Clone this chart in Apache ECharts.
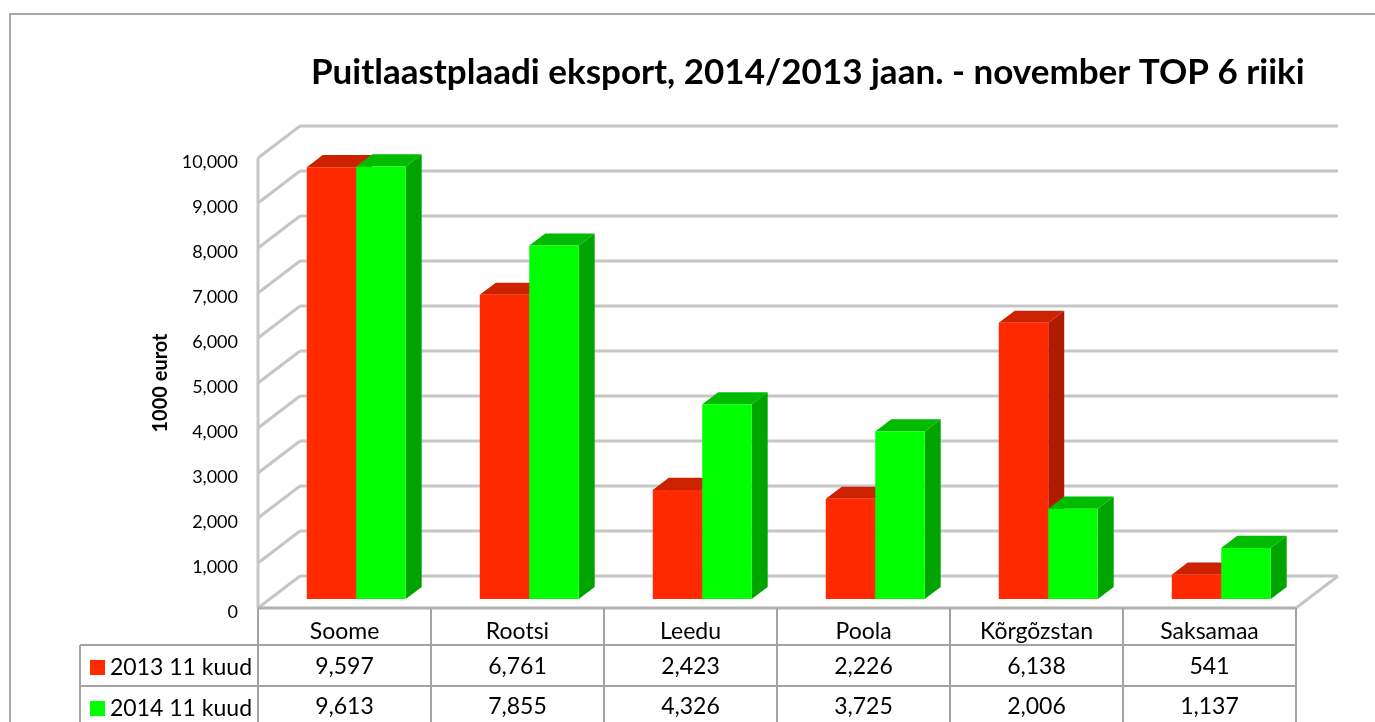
<!DOCTYPE html>
<html><head><meta charset="utf-8">
<script src="https://cdn.jsdelivr.net/npm/echarts@6/dist/echarts.min.js"></script>
<style>html,body{margin:0;padding:0;background:#fff}#c{width:1375px;height:722px}</style>
</head><body><div id="c"></div><script>
// ---- data ----
const titleText = 'Puitlaastplaadi eksport, 2014/2013 jaan. - november TOP 6 riiki';
const yAxisName = '1000 eurot';
const categories = ['Soome', 'Rootsi', 'Leedu', 'Poola', 'Kõrgõzstan', 'Saksamaa'];
const seriesNames = ['2013 11 kuud', '2014 11 kuud'];
const values2013 = [9597, 6761, 2423, 2226, 6138, 541];
const values2014 = [9613, 7855, 4326, 3725, 2006, 1137];
const yTicks = [0, 1000, 2000, 3000, 4000, 5000, 6000, 7000, 8000, 9000, 10000];

// ---- style ----
const FONT = 'Lato, "Noto Sans", sans-serif';
const WALL = { dx: 42, dy: -32 };
const BAR = { front: 0.28, depth: 0.38, width: 0.286 };
const PAL = [
  { front: '#ff2a00', top: '#cc2200', side: '#b01a00' },
  { front: '#00ff00', top: '#00bb00', side: '#00a400' }
];
const GRID_STROKE = { stroke: '#c6c6c6', lineWidth: 3 };
const TABLE_STROKE = { stroke: '#a3a3a3', lineWidth: 2 };
const TABLE = { row1: 37, row2: 78, legendLeft: 80 };
const TABLE_FONT = 23;
const fmt = v => Number(v).toLocaleString('en-US');

function barRender(side) {
  const pal = PAL[side];
  return function (params, api) {
    const c = api.value(0), v = api.value(1);
    const top = api.coord([c, v]), base = api.coord([c, 0]);
    const band = api.size([1, 0])[0];
    const w = band * BAR.width;
    const fx = WALL.dx * BAR.front, fy = WALL.dy * BAR.front;
    const bx = WALL.dx * BAR.depth, by = WALL.dy * BAR.depth;
    const L = base[0] + fx + (side === 0 ? -w : 0);
    const R = L + w;
    const T = top[1] + fy, B = base[1] + fy;
    return { type: 'group', children: [
      { type: 'polygon', shape: { points: [[R, T], [R + bx, T + by], [R + bx, B + by], [R, B]] }, style: { fill: pal.side } },
      { type: 'polygon', shape: { points: [[L, T], [L + bx, T + by], [R + bx, T + by], [R, T]] }, style: { fill: pal.top } },
      { type: 'rect', shape: { x: L, y: T, width: w, height: B - T }, style: { fill: pal.front } }
    ] };
  };
}

function wallRender(params, api) {
  const cs = params.coordSys;
  const v = api.value(1);
  const y = api.coord([0, v])[1];
  const lx = cs.x, rx = cs.x + cs.width;
  const ch = [
    { type: 'line', shape: { x1: lx, y1: y, x2: lx + WALL.dx, y2: y + WALL.dy }, style: GRID_STROKE },
    { type: 'line', shape: { x1: lx + WALL.dx, y1: y + WALL.dy, x2: rx + WALL.dx, y2: y + WALL.dy }, style: GRID_STROKE }
  ];
  if (params.dataIndex === 0) {
    const yTop = api.coord([0, yTicks[yTicks.length - 1]])[1];
    ch.push({ type: 'line', shape: { x1: lx, y1: y, x2: lx, y2: yTop }, style: GRID_STROKE });
    ch.push({ type: 'line', shape: { x1: rx, y1: y, x2: rx + WALL.dx, y2: y + WALL.dy }, style: GRID_STROKE });
  }
  return { type: 'group', children: ch };
}

function tableRender(params, api) {
  const cs = params.coordSys;
  const i = api.value(0);
  const band = api.size([1, 0])[0];
  const cx = api.coord([i, 0])[0];
  const y0 = cs.y + cs.height;
  const r1 = y0 + TABLE.row1, r2 = y0 + TABLE.row2, yb = y0 + 200;
  const lx = cs.x, rx = cs.x + cs.width;
  const txt = { fill: '#000', font: TABLE_FONT + 'px ' + FONT, align: 'center', verticalAlign: 'middle' };
  const ch = [
    { type: 'text', x: cx, y: (r1 + r2) / 2 + 1, style: Object.assign({ text: fmt(api.value(1)) }, txt) },
    { type: 'text', x: cx, y: r2 + 21, style: Object.assign({ text: fmt(api.value(2)) }, txt) },
    { type: 'line', shape: { x1: cx + band / 2, y1: y0, x2: cx + band / 2, y2: yb }, style: TABLE_STROKE }
  ];
  if (params.dataIndex === 0) {
    ch.push({ type: 'line', shape: { x1: lx, y1: y0, x2: lx, y2: yb }, style: TABLE_STROKE });
    ch.push({ type: 'line', shape: { x1: lx, y1: y0, x2: rx, y2: y0 }, style: { stroke: '#b0b0b0', lineWidth: 3 } });
    ch.push({ type: 'line', shape: { x1: TABLE.legendLeft, y1: r1, x2: TABLE.legendLeft, y2: yb }, style: TABLE_STROKE });
    ch.push({ type: 'line', shape: { x1: TABLE.legendLeft, y1: r1, x2: rx, y2: r1 }, style: TABLE_STROKE });
    ch.push({ type: 'line', shape: { x1: TABLE.legendLeft, y1: r2, x2: rx, y2: r2 }, style: TABLE_STROKE });
  }
  return { type: 'group', children: ch };
}

const legendBase = {
  orient: 'horizontal', left: 90, padding: 0, itemWidth: 15, itemHeight: 15,
  icon: 'rect', selectedMode: false,
  textStyle: { fontFamily: FONT, fontSize: TABLE_FONT, lineHeight: 20, color: '#000' }
};

const chart = echarts.init(document.getElementById('c'), null, { renderer: 'canvas' });
chart.setOption({
  animation: false,
  backgroundColor: '#fff',
  textStyle: { fontFamily: FONT },
  title: {
    text: titleText, left: 306, top: 50,
    textStyle: { fontFamily: FONT, fontSize: 35, fontWeight: 'bold', color: '#000' }
  },
  legend: [
    Object.assign({ top: 656, data: [seriesNames[0]] }, legendBase),
    Object.assign({ top: 697, data: [seriesNames[1]] }, legendBase)
  ],
  graphic: [{
    type: 'rect', shape: { x: 10, y: 14, width: 1400, height: 800 },
    style: { fill: null, stroke: '#a8a8a8', lineWidth: 2 }, silent: true, z: -10
  }],
  grid: { left: 258, right: 79, top: 158, bottom: 114, containLabel: false },
  xAxis: {
    type: 'category', data: categories,
    axisLine: { show: false }, axisTick: { show: false }, splitLine: { show: false },
    axisLabel: { color: '#000', fontSize: TABLE_FONT, fontFamily: FONT, margin: 12 }
  },
  yAxis: {
    type: 'value', min: 0, max: 10000, interval: 1000,
    name: yAxisName, nameLocation: 'middle', nameRotate: 90, nameGap: 82,
    nameTextStyle: { fontFamily: FONT, fontSize: 20, fontWeight: 'bold', color: '#000' },
    axisLine: { show: false }, axisTick: { show: false }, splitLine: { show: false },
    axisLabel: {
      color: '#000', fontSize: 18, fontFamily: FONT, margin: 20,
      formatter: v => '{a|' + fmt(v) + '}',
      rich: { a: { fontSize: 18, fontFamily: FONT, color: '#000', padding: [9, 0, 0, 0] } }
    }
  },
  series: [
    { type: 'custom', name: 'walls', silent: true, clip: false, renderItem: wallRender,
      data: yTicks.map(v => [0, v]), z: 1 },
    { type: 'custom', name: seriesNames[0], clip: false, renderItem: barRender(0),
      itemStyle: { color: PAL[0].front }, data: categories.map((c, i) => [i, values2013[i]]), z: 2 },
    { type: 'custom', name: seriesNames[1], clip: false, renderItem: barRender(1),
      itemStyle: { color: PAL[1].front }, data: categories.map((c, i) => [i, values2014[i]]), z: 3 },
    { type: 'custom', name: 'table', silent: true, clip: false, renderItem: tableRender,
      data: categories.map((c, i) => [i, values2013[i], values2014[i]]), z: 4 }
  ]
});
</script></body></html>
